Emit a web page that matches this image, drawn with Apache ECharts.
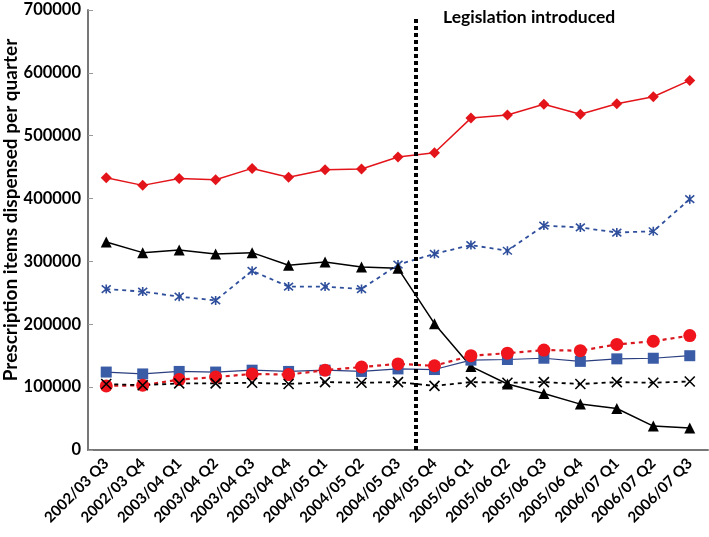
<!DOCTYPE html>
<html><head><meta charset="utf-8">
<script src="https://cdn.jsdelivr.net/npm/echarts@6/dist/echarts.min.js"></script>
<style>html,body{margin:0;padding:0;background:#fff}#c{width:709px;height:537px}</style>
</head><body><div id="c"></div>
<script>
const categories = ['2002/03 Q3','2002/03 Q4','2003/04 Q1','2003/04 Q2','2003/04 Q3','2003/04 Q4','2004/05 Q1','2004/05 Q2','2004/05 Q3','2004/05 Q4','2005/06 Q1','2005/06 Q2','2005/06 Q3','2005/06 Q4','2006/07 Q1','2006/07 Q2','2006/07 Q3'];
const redDiamond = [433000,421000,432000,430000,448000,434000,446000,447000,466000,473000,528000,533000,550000,534000,551000,562000,588000];
const blueStar = [256000,252000,244000,238000,285000,260000,260000,256000,295000,312000,326000,317000,357000,354000,346000,348000,399000];
const blackTriangle = [331000,314000,318000,312000,314000,294000,299000,291000,289000,201000,133000,105000,90000,73000,66000,38000,35000];
const blueSquare = [124000,121000,125000,124000,127000,125000,127000,125000,129000,128000,143000,144000,146000,141000,145000,146000,150000];
const redCircle = [102000,103000,112000,116000,121000,120000,127000,132000,137000,134000,150000,154000,159000,158000,168000,173000,182000];
const blackX = [105000,103000,106000,106000,107000,105000,108000,107000,108000,102000,108000,107000,108000,105000,108000,107000,109000];
const yTicks = [0,100000,200000,300000,400000,500000,600000,700000];
// legislation line sits between these two categories
const legislationBetween = ['2004/05 Q3', '2004/05 Q4'];
const legislationY = [0, 690000];
const legislationText = 'Legislation introduced';

const FONT = 'Lato';
const chart = echarts.init(document.getElementById('c'));
const xPath = 'path://M0,0L10,10M10,0L0,10';
const starPath = 'path://M0,0L10,10M10,0L0,10M5,-1L5,11';
function ser(name, data, color, symbol, size, lineType, width, symColor) {
  const hollow = symbol.startsWith('path://');
  return {
    name, type: 'line', data, symbol, symbolSize: size,
    lineStyle: {color, width, type: lineType},
    itemStyle: hollow ? {color: 'rgba(0,0,0,0)', borderColor: symColor || color, borderWidth: 1.6}
                      : {color: symColor || color, borderWidth: 0},
    emphasis: {disabled: true}, animation: false
  };
}
chart.setOption({
  animation: false,
  grid: {left: 88, right: 1, top: 10, bottom: 87, containLabel: false, outerBoundsMode: 'none'},
  xAxis: {
    type: 'category', data: categories, boundaryGap: true,
    axisLine: {lineStyle: {color: '#777', width: 2}},
    axisTick: {inside: true, length: 10, lineStyle: {color: '#999', width: 1}},
    axisLabel: {rotate: 45, interval: 0, color: '#000', fontFamily: FONT, fontWeight: 'bold', fontSize: 15, margin: 11}
  },
  yAxis: {
    type: 'value', min: 0, max: 700000, interval: 100000,
    name: 'Prescription items dispensed per quarter', nameLocation: 'middle', nameGap: 68,
    nameMoveOverlap: false,
    nameTextStyle: {color: '#000', fontFamily: FONT, fontWeight: 'bold', fontSize: 19, padding: [0, 0, 0, 40]},
    axisLine: {show: true, lineStyle: {color: '#777', width: 2}},
    axisTick: {show: true, inside: true, length: 5, lineStyle: {color: '#999'}},
    splitLine: {show: false},
    axisLabel: {color: '#000', fontFamily: FONT, fontWeight: 'bold', fontSize: 16.5, margin: 7,
      formatter: v => yTicks.includes(v) ? String(v) : ''}
  },
  series: [
    ser('redDiamond', redDiamond, '#e3151b', 'diamond', 11, 'solid', 1.5),
    ser('blueStar', blueStar, '#2f4f9c', starPath, 9, [4,4], 1.8),
    ser('blackTriangle', blackTriangle, '#000', 'triangle', 11, 'solid', 1.5),
    ser('blueSquare', blueSquare, '#2b3f80', 'rect', 11, 'solid', 1.2, '#3a5ba5'),
    ser('redCircle', redCircle, '#d91820', 'circle', 13, [4,4], 2.2, '#f0141c'),
    ser('blackX', blackX, '#000', xPath, 10, [4,4], 1.8)
  ],
  graphic: [{
    type: 'text', left: 443, top: 8,
    style: {text: legislationText, fill: '#000', font: 'bold 17.5px Lato'}
  }]
});
// position the legislation line at the boundary between the two categories, via the library's scales
const xa = chart.convertToPixel({xAxisIndex: 0}, legislationBetween[0]);
const xb = chart.convertToPixel({xAxisIndex: 0}, legislationBetween[1]);
const lx = (xa + xb) / 2;
const y0 = chart.convertToPixel({yAxisIndex: 0}, legislationY[0]);
const y1 = chart.convertToPixel({yAxisIndex: 0}, legislationY[1]);
chart.setOption({
  series: [{
    markLine: {
      silent: true, symbol: 'none', animation: false,
      lineStyle: {color: '#000', width: 4, type: [4, 3]},
      label: {show: false},
      data: [[{x: lx, y: y0}, {x: lx, y: y1}]]
    }
  }]
});
</script></body></html>
